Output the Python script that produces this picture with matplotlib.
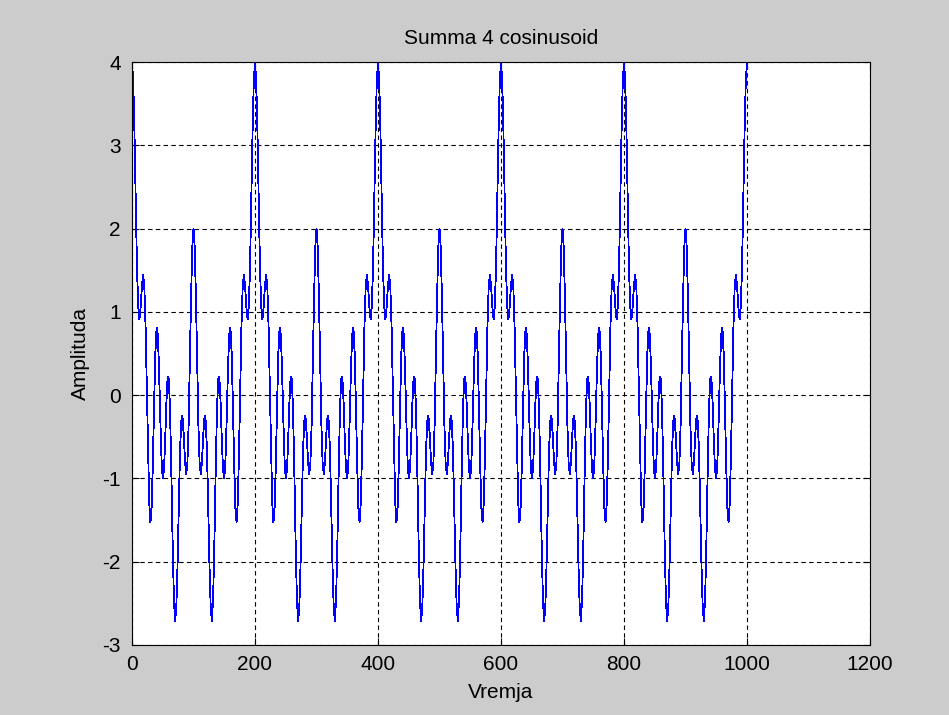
import numpy as np
import matplotlib
matplotlib.use("Agg")
import matplotlib.pyplot as plt
from matplotlib import font_manager

# sample index (every 2nd sample of 0..1000)
time = np.arange(0, 1001, 2)

# amplitude of the sum of 4 cosinusoids, read per sample
amplitude = [
    4.00, 3.77, 3.15, 2.33, 1.57, 1.07, 0.91, 1.05, 1.30, 1.44, 1.31, 0.84, 0.11, -0.68, -1.29, -1.53, -1.34, -0.79, -0.09, 0.51, 0.81, 0.72, 0.30, -0.28, -0.77, -1.00, -0.90, -0.53, -0.08, 0.22, 0.19, -0.23, -0.94, -1.75, -2.41, -2.71, -2.56, -2.05, -1.35, -0.70, -0.31, -0.25, -0.46, -0.76, -0.95, -0.83, -0.37, 0.37, 1.16, 1.77, 2.00,
    1.77, 1.16, 0.37, -0.37, -0.83, -0.95, -0.76, -0.46, -0.25, -0.31, -0.70, -1.35, -2.05, -2.56, -2.71, -2.41, -1.75, -0.94, -0.23, 0.19, 0.22, -0.08, -0.53, -0.90, -1.00, -0.77, -0.28, 0.30, 0.72, 0.81, 0.51, -0.09, -0.79, -1.34, -1.53, -1.29, -0.68, 0.11, 0.84, 1.31, 1.44, 1.30, 1.05, 0.91, 1.07, 1.57, 2.33, 3.15, 3.77,
    4.00, 3.77, 3.15, 2.33, 1.57, 1.07, 0.91, 1.05, 1.30, 1.44, 1.31, 0.84, 0.11, -0.68, -1.29, -1.53, -1.34, -0.79, -0.09, 0.51, 0.81, 0.72, 0.30, -0.28, -0.77, -1.00, -0.90, -0.53, -0.08, 0.22, 0.19, -0.23, -0.94, -1.75, -2.41, -2.71, -2.56, -2.05, -1.35, -0.70, -0.31, -0.25, -0.46, -0.76, -0.95, -0.83, -0.37, 0.37, 1.16, 1.77, 2.00,
    1.77, 1.16, 0.37, -0.37, -0.83, -0.95, -0.76, -0.46, -0.25, -0.31, -0.70, -1.35, -2.05, -2.56, -2.71, -2.41, -1.75, -0.94, -0.23, 0.19, 0.22, -0.08, -0.53, -0.90, -1.00, -0.77, -0.28, 0.30, 0.72, 0.81, 0.51, -0.09, -0.79, -1.34, -1.53, -1.29, -0.68, 0.11, 0.84, 1.31, 1.44, 1.30, 1.05, 0.91, 1.07, 1.57, 2.33, 3.15, 3.77,
    4.00, 3.77, 3.15, 2.33, 1.57, 1.07, 0.91, 1.05, 1.30, 1.44, 1.31, 0.84, 0.11, -0.68, -1.29, -1.53, -1.34, -0.79, -0.09, 0.51, 0.81, 0.72, 0.30, -0.28, -0.77, -1.00, -0.90, -0.53, -0.08, 0.22, 0.19, -0.23, -0.94, -1.75, -2.41, -2.71, -2.56, -2.05, -1.35, -0.70, -0.31, -0.25, -0.46, -0.76, -0.95, -0.83, -0.37, 0.37, 1.16, 1.77, 2.00,
    1.77, 1.16, 0.37, -0.37, -0.83, -0.95, -0.76, -0.46, -0.25, -0.31, -0.70, -1.35, -2.05, -2.56, -2.71, -2.41, -1.75, -0.94, -0.23, 0.19, 0.22, -0.08, -0.53, -0.90, -1.00, -0.77, -0.28, 0.30, 0.72, 0.81, 0.51, -0.09, -0.79, -1.34, -1.53, -1.29, -0.68, 0.11, 0.84, 1.31, 1.44, 1.30, 1.05, 0.91, 1.07, 1.57, 2.33, 3.15, 3.77,
    4.00, 3.77, 3.15, 2.33, 1.57, 1.07, 0.91, 1.05, 1.30, 1.44, 1.31, 0.84, 0.11, -0.68, -1.29, -1.53, -1.34, -0.79, -0.09, 0.51, 0.81, 0.72, 0.30, -0.28, -0.77, -1.00, -0.90, -0.53, -0.08, 0.22, 0.19, -0.23, -0.94, -1.75, -2.41, -2.71, -2.56, -2.05, -1.35, -0.70, -0.31, -0.25, -0.46, -0.76, -0.95, -0.83, -0.37, 0.37, 1.16, 1.77, 2.00,
    1.77, 1.16, 0.37, -0.37, -0.83, -0.95, -0.76, -0.46, -0.25, -0.31, -0.70, -1.35, -2.05, -2.56, -2.71, -2.41, -1.75, -0.94, -0.23, 0.19, 0.22, -0.08, -0.53, -0.90, -1.00, -0.77, -0.28, 0.30, 0.72, 0.81, 0.51, -0.09, -0.79, -1.34, -1.53, -1.29, -0.68, 0.11, 0.84, 1.31, 1.44, 1.30, 1.05, 0.91, 1.07, 1.57, 2.33, 3.15, 3.77,
    4.00, 3.77, 3.15, 2.33, 1.57, 1.07, 0.91, 1.05, 1.30, 1.44, 1.31, 0.84, 0.11, -0.68, -1.29, -1.53, -1.34, -0.79, -0.09, 0.51, 0.81, 0.72, 0.30, -0.28, -0.77, -1.00, -0.90, -0.53, -0.08, 0.22, 0.19, -0.23, -0.94, -1.75, -2.41, -2.71, -2.56, -2.05, -1.35, -0.70, -0.31, -0.25, -0.46, -0.76, -0.95, -0.83, -0.37, 0.37, 1.16, 1.77, 2.00,
    1.77, 1.16, 0.37, -0.37, -0.83, -0.95, -0.76, -0.46, -0.25, -0.31, -0.70, -1.35, -2.05, -2.56, -2.71, -2.41, -1.75, -0.94, -0.23, 0.19, 0.22, -0.08, -0.53, -0.90, -1.00, -0.77, -0.28, 0.30, 0.72, 0.81, 0.51, -0.09, -0.79, -1.34, -1.53, -1.29, -0.68, 0.11, 0.84, 1.31, 1.44, 1.30, 1.05, 0.91, 1.07, 1.57, 2.33, 3.15, 3.77,
    4.00,
]

xticks = [0, 200, 400, 600, 800, 1000, 1200]
yticks = [-3, -2, -1, 0, 1, 2, 3, 4]
title = "Summa 4 cosinusoid"
xlabel = "Vremja"
ylabel = "Amplituda"

names = {f.name for f in font_manager.fontManager.ttflist}
if 'Liberation Sans Narrow' in names:
    plt.rcParams['font.family'] = ['Liberation Sans Narrow', 'DejaVu Sans']
    fs = 16.5
else:
    plt.rcParams['font.family'] = ['Liberation Sans', 'DejaVu Sans']
    fs = 15

fig = plt.figure(figsize=(9.49, 7.15), dpi=100, facecolor='#cccccc')
ax = fig.add_axes([132/949, 1 - 645/715, (870 - 132)/949, (645 - 62)/715])
ax.set_facecolor('white')

ax.plot(time, amplitude, color='#0000ff', linewidth=0.6, antialiased=False)

ax.set_xlim(0, 1200)
ax.set_ylim(-3, 4)
ax.set_xticks(xticks)
ax.set_yticks(yticks)
ax.set_xticklabels([str(t) for t in xticks])
ax.set_yticklabels([str(t) for t in yticks])
ax.tick_params(direction='in', length=5, width=0.8, color='black', labelsize=fs,
               top=True, right=True)
ax.tick_params(axis='y', pad=8)
ax.tick_params(axis='x', pad=7)
ax.grid(True, color='black', linestyle=(0, (4, 3)), linewidth=0.8)
for s in ax.spines.values():
    s.set_linewidth(0.8)
    s.set_color('black')

ax.set_title(title, fontsize=fs, pad=13)
ax.set_xlabel(xlabel, fontsize=fs, labelpad=7)
ax.set_ylabel(ylabel, fontsize=fs, labelpad=9)

fig.savefig('out.png', dpi=100, facecolor=fig.get_facecolor())
